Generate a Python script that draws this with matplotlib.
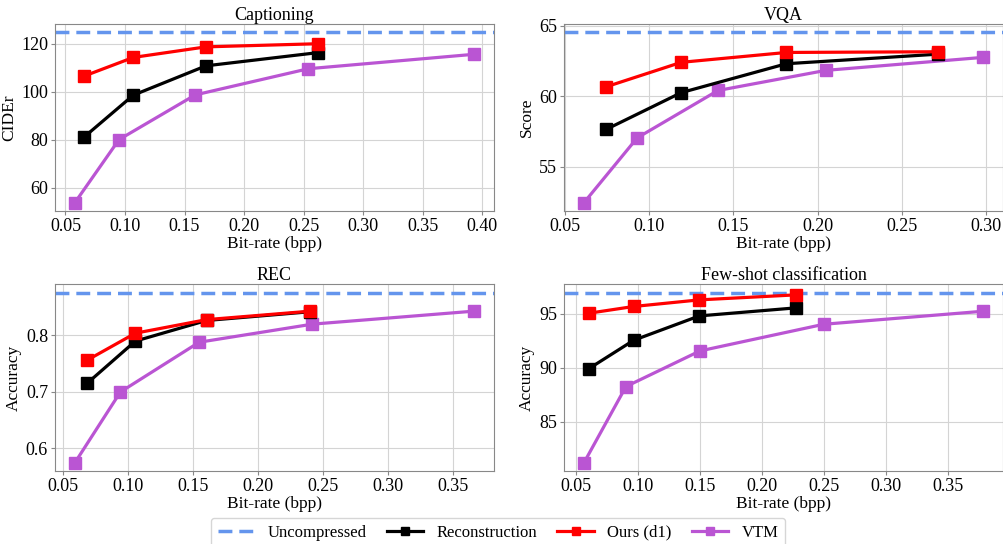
import matplotlib.pyplot as plt
from matplotlib.ticker import MultipleLocator
from matplotlib.lines import Line2D

plt.rcParams['font.family'] = ['Liberation Serif', 'DejaVu Serif']

# Captioning
cap_x_rec = [0.066, 0.107, 0.168, 0.262]
cap_y_rec = [81.3, 98.6, 110.8, 116.3]
cap_x_ours = [0.066, 0.107, 0.168, 0.262]
cap_y_ours = [106.6, 114.3, 118.7, 120.0]
cap_x_vtm = [0.058, 0.095, 0.159, 0.254, 0.393]
cap_y_vtm = [53.9, 80.1, 98.7, 109.6, 115.6]
cap_ref = 124.7

# VQA
vqa_x_rec = [0.0745, 0.119, 0.1815, 0.2718]
vqa_y_rec = [57.65, 60.25, 62.3, 62.98]
vqa_x_ours = [0.0745, 0.119, 0.1815, 0.2718]
vqa_y_ours = [60.67, 62.4, 63.1, 63.15]
vqa_x_vtm = [0.0612, 0.0928, 0.1408, 0.205, 0.2984]
vqa_y_vtm = [52.45, 57.04, 60.4, 61.83, 62.75]
vqa_ref = 64.52

# REC
rec_x_rec = [0.0684, 0.1057, 0.1605, 0.2405]
rec_y_rec = [0.715, 0.790, 0.8265, 0.842]
rec_x_ours = [0.0684, 0.1057, 0.1605, 0.2405]
rec_y_ours = [0.756, 0.804, 0.828, 0.843]
rec_x_vtm = [0.0592, 0.0942, 0.1548, 0.242, 0.3664]
rec_y_vtm = [0.575, 0.700, 0.788, 0.820, 0.843]
rec_ref = 0.876

# Few-shot classification
fs_x_rec = [0.0604, 0.0964, 0.1494, 0.2271]
fs_y_rec = [89.92, 92.53, 94.78, 95.52]
fs_x_ours = [0.0604, 0.0964, 0.1494, 0.2271]
fs_y_ours = [95.03, 95.65, 96.26, 96.72]
fs_x_vtm = [0.0564, 0.0902, 0.15, 0.2499, 0.3784]
fs_y_vtm = [81.24, 88.26, 91.55, 94.01, 95.21]
fs_ref = 96.94

titles = ["Captioning", "VQA", "REC", "Few-shot classification"]
ylabels = ["CIDEr", "Score", "Accuracy", "Accuracy"]
ysteps = [20, 5, 0.1, 5]

panels = [
    (cap_x_rec, cap_y_rec, cap_x_ours, cap_y_ours, cap_x_vtm, cap_y_vtm, cap_ref),
    (vqa_x_rec, vqa_y_rec, vqa_x_ours, vqa_y_ours, vqa_x_vtm, vqa_y_vtm, vqa_ref),
    (rec_x_rec, rec_y_rec, rec_x_ours, rec_y_ours, rec_x_vtm, rec_y_vtm, rec_ref),
    (fs_x_rec, fs_y_rec, fs_x_ours, fs_y_ours, fs_x_vtm, fs_y_vtm, fs_ref),
]

c_ref = '#6495ED'
c_rec = 'black'
c_ours = '#FF0000'
c_vtm = '#BA55D3'

fig, axes = plt.subplots(2, 2, figsize=(10.04, 5.44), dpi=100)
fig.subplots_adjust(left=0.0548, right=0.999, top=0.956, bottom=0.134,
                    wspace=0.16, hspace=0.39)

for ax, p, t, yl, st in zip(axes.flat, panels, titles, ylabels, ysteps):
    xr, yr, xo, yo, xv, yv, ref = p
    ax.grid(True, color='#d4d4d4', linewidth=0.8)
    ax.set_axisbelow(True)
    ax.axhline(ref, color=c_ref, linestyle='--', linewidth=2.5, dashes=(4, 2))
    ax.plot(xv, yv, color=c_vtm, marker='s', markersize=8, linewidth=2.3)
    ax.plot(xr, yr, color=c_rec, marker='s', markersize=8, linewidth=2.3)
    ax.plot(xo, yo, color=c_ours, marker='s', markersize=8, linewidth=2.3)
    ax.set_title(t, fontsize=13, pad=3)
    ax.set_xlabel("Bit-rate (bpp)", fontsize=12.5, labelpad=1)
    ax.set_ylabel(yl, fontsize=12.5, labelpad=3)
    ax.yaxis.set_major_locator(MultipleLocator(st))
    ax.xaxis.set_major_locator(MultipleLocator(0.05))
    ax.tick_params(labelsize=13, length=3, pad=2, color='#888888')
    for s in ax.spines.values():
        s.set_color('#888888')

handles = [
    Line2D([], [], color=c_ref, linestyle='--', linewidth=2.5, dashes=(4, 2)),
    Line2D([], [], color=c_rec, marker='s', markersize=6, linewidth=2.3),
    Line2D([], [], color=c_ours, marker='s', markersize=6, linewidth=2.3),
    Line2D([], [], color=c_vtm, marker='s', markersize=6, linewidth=2.3),
]
labels = ["Uncompressed", "Reconstruction", "Ours (d1)", "VTM"]
fig.legend(handles, labels, loc='upper center', ncol=4, fontsize=12,
           bbox_to_anchor=(0.496, 0.048), bbox_transform=fig.transFigure,
           borderaxespad=0, handlelength=2.2, columnspacing=1.2, frameon=True)

fig.savefig("out.png", dpi=100)
